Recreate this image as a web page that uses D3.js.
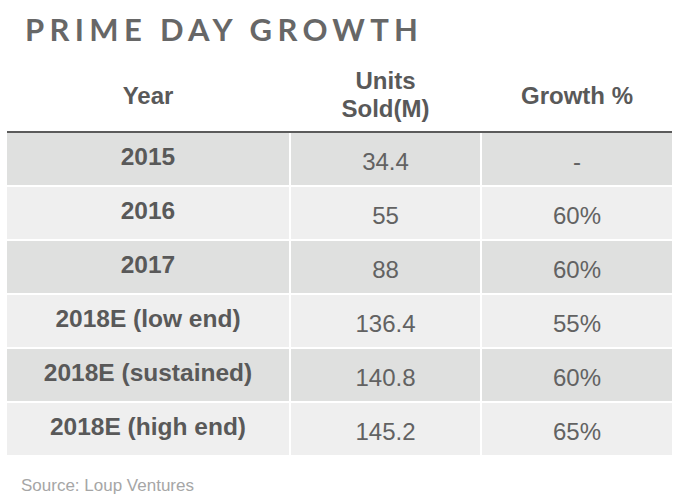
<!DOCTYPE html>
<html lang="en">
    <head>
        <meta charset="utf-8">
        <title>Prime Day Growth</title>
        <script src="https://d3js.org/d3.v7.min.js"></script>
        <style type="text/css">
         body { margin: 0; background: #fff; }
         text { font-family: "Liberation Sans", Arial, sans-serif; }
        </style>
    </head>
    <body>
        <script type="text/javascript">
         // Data
         var years = ["2015", "2016", "2017", "2018E (low end)", "2018E (sustained)", "2018E (high end)"];
         var unitsSold = ["34.4", "55", "88", "136.4", "140.8", "145.2"];
         var growth = ["-", "60%", "60%", "55%", "60%", "65%"];
         var headers = [["Year"], ["Units", "Sold(M)"], ["Growth %"]];

         var width = 675;
         var height = 504;

         var svg = d3.select("body")
                     .append("svg")
                     .attr("width", width)
                     .attr("height", height);

         // Title
         svg.append("text")
            .attr("x", 25)
            .attr("y", 41)
            .attr("textLength", 393)
            .attr("lengthAdjust", "spacing")
            .style("font-family", "Lato, 'Open Sans', sans-serif")
            .style("font-size", "31px")
            .style("font-weight", "bold")
            .style("fill", "#676767")
            .text("PRIME DAY GROWTH");

         // Column layout: left/right edge of each column
         var cols = [[7, 289], [291, 480], [482, 672]];

         // Row scale
         var y = d3.scaleBand()
                   .domain(years)
                   .range([133, 455])
                   .paddingInner(2 / 54);

         var rows = years.map(function(d, i) {
             return [d, unitsSold[i], growth[i]];
         });

         // Cells
         var rowG = svg.selectAll("g.row")
                       .data(rows)
                       .enter()
                       .append("g")
                       .attr("class", "row")
                       .attr("transform", function(d) { return "translate(0," + y(d[0]) + ")"; });

         rowG.selectAll("rect")
             .data(function(d, i) { return d.map(function(v) { return {v: v, i: i}; }); })
             .enter()
             .append("rect")
             .attr("x", function(d, j) { return cols[j][0]; })
             .attr("width", function(d, j) { return cols[j][1] - cols[j][0]; })
             .attr("height", y.bandwidth())
             .style("fill", function(d) { return d.i % 2 === 0 ? "#dfe0df" : "#efefef"; });

         rowG.selectAll("text")
             .data(function(d) { return d; })
             .enter()
             .append("text")
             .attr("x", function(d, j) { return (cols[j][0] + cols[j][1]) / 2; })
             .attr("y", function(d, j) { return j === 0 ? 32 : 37; })
             .attr("text-anchor", "middle")
             .style("font-size", function(d, j) { return j === 0 ? "24.5px" : "24px"; })
             .style("font-weight", function(d, j) { return j === 0 ? "bold" : "normal"; })
             .style("fill", function(d, j) { return j === 0 ? "#595959" : "#626262"; })
             .text(function(d) { return d; });

         // Header
         var headG = svg.selectAll("text.head")
                        .data(headers)
                        .enter()
                        .append("text")
                        .attr("class", "head")
                        .attr("text-anchor", "middle")
                        .style("font-size", "24px")
                        .style("font-weight", "bold")
                        .style("fill", "#595959");

         headG.selectAll("tspan")
              .data(function(d, j) { return d.map(function(t, k) { return {t: t, j: j, k: k, n: d.length}; }); })
              .enter()
              .append("tspan")
              .attr("x", function(d) { return (cols[d.j][0] + cols[d.j][1]) / 2; })
              .attr("y", function(d) { return d.n === 1 ? 104 : 89 + d.k * 28; })
              .text(function(d) { return d.t; });

         // Header rule
         svg.append("rect")
            .attr("x", 7)
            .attr("y", 131)
            .attr("width", 665)
            .attr("height", 2)
            .style("fill", "#5b5b5b");

         // Source
         svg.append("text")
            .attr("x", 21)
            .attr("y", 491)
            .style("font-size", "17px")
            .style("fill", "#a6a6a6")
            .text("Source: Loup Ventures");
        </script>
    </body>
</html>
